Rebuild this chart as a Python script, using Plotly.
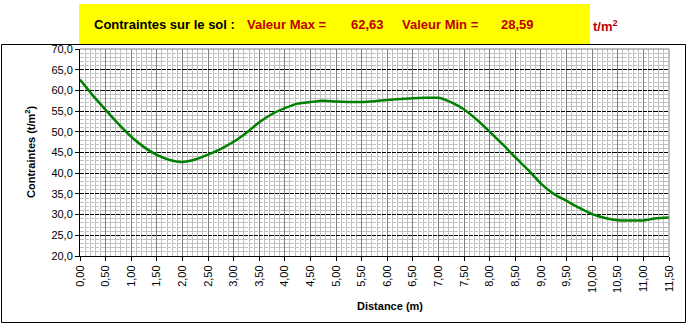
import plotly.graph_objects as go

distance = [0, 0.25, 0.5, 0.75, 1, 1.25, 1.5, 1.75, 2, 2.25, 2.5, 2.75, 3, 3.25, 3.5, 3.75,
            4, 4.25, 4.5, 4.75, 5, 5.25, 5.5, 5.75, 6, 6.25, 6.5, 6.75, 7, 7.25, 7.5, 7.75,
            8, 8.25, 8.5, 8.75, 9, 9.25, 9.5, 9.75, 10, 10.25, 10.5, 10.75, 11, 11.25, 11.5]
contraintes = [62.63, 58.8, 55.3, 51.9, 48.8, 46.3, 44.4, 43.2, 42.7, 43.3, 44.5, 45.9, 47.6,
               49.8, 52.3, 54.3, 55.7, 56.8, 57.2, 57.5, 57.3, 57.2, 57.2, 57.4, 57.7, 57.9,
               58.1, 58.2, 58.2, 57.1, 55.4, 52.9, 50.0, 47.0, 43.8, 40.8, 37.5, 35.0, 33.3,
               31.6, 30.1, 29.2, 28.65, 28.59, 28.6, 29.1, 29.3]
x_ticks = [i * 0.5 for i in range(24)]
y_ticks = [20, 25, 30, 35, 40, 45, 50, 55, 60, 65, 70]

L, R, T, B = 80, 669, 49, 256
W, H = R - L, B - T


def px(x):
    return (x - L) / W


def py(y):
    return (B - y) / H


FONT = "Liberation Sans, Arial, sans-serif"
RED = "#C00000"

vmax = max(contraintes)
vmin = min(contraintes)
fmt = lambda v: f"{v:.2f}".replace(".", ",")

fig = go.Figure()
fig.add_trace(go.Scatter(x=distance, y=contraintes, mode="lines",
                         line=dict(color="#008000", width=2.5, shape="spline", smoothing=0.6),
                         showlegend=False, hoverinfo="skip"))

fig.update_layout(
    width=689, height=325,
    margin=dict(l=L, r=689 - R, t=T, b=325 - B),
    paper_bgcolor="white", plot_bgcolor="white",
    separators=", ",
    font=dict(family=FONT, size=11, color="black"),
    xaxis=dict(range=[0, 11.5], tickvals=x_ticks, tickformat=".2f", tickangle=-90,
               showgrid=True, gridcolor="#808080", gridwidth=1,
               minor=dict(dtick=0.1, showgrid=True, gridcolor="#C0C0C0", gridwidth=1),
               showline=True, linecolor="black", linewidth=1,
               ticks="outside", ticklen=4, tickcolor="black",
               tickfont=dict(family=FONT, size=11, color="black"), zeroline=False),
    yaxis=dict(range=[20, 70], tickvals=y_ticks, tickformat=".1f",
               showgrid=True, gridcolor="black", gridwidth=1, griddash="4.12px,1px",
               minor=dict(dtick=1, showgrid=True, gridcolor="#C0C0C0", gridwidth=1),
               showline=True, linecolor="black", linewidth=1,
               ticks="outside", ticklen=4, tickcolor="black",
               tickfont=dict(family=FONT, size=11, color="black"), zeroline=False),
)

shapes = [
    # outer frame
    dict(type="rect", xref="paper", yref="paper", x0=px(1.5), x1=px(685.5), y0=py(322.5), y1=py(44.5),
         line=dict(color="black", width=1), layer="below"),
    # yellow title box
    dict(type="rect", xref="paper", yref="paper", x0=px(79), x1=px(590), y0=py(44), y1=py(4),
         fillcolor="#FFFF00", line=dict(width=0), layer="below"),
    # top and right of plot area (gray)
    dict(type="line", xref="paper", yref="paper", x0=0, x1=1, y0=1, y1=1,
         line=dict(color="#808080", width=1), layer="above"),
    dict(type="line", xref="paper", yref="paper", x0=1, x1=1, y0=0, y1=1,
         line=dict(color="#808080", width=1), layer="above"),
]
fig.update_layout(shapes=shapes)

ann = []


def add_text(text, x, y, color="black", size=13, angle=0, xanchor="left"):
    ann.append(dict(text=text, x=px(x), y=py(y), xref="paper", yref="paper", showarrow=False,
                    xanchor=xanchor, yanchor="middle", textangle=angle,
                    font=dict(family=FONT, size=size, color=color)))


add_text("<b>Contraintes sur le sol :</b>", 92, 25)
add_text("<b>Valeur Max =</b>", 245, 25, RED)
add_text("<b>" + fmt(vmax) + "</b>", 349, 25, RED)
add_text("<b>Valeur Min =</b>", 400, 25, RED)
add_text("<b>" + fmt(vmin) + "</b>", 499, 25, RED)
add_text("<b>t/m<sup>2</sup></b>", 591, 26, RED)
add_text("<b>Contraintes (t/m<sup>2</sup>)</b>", 30, 152, size=11, angle=-90, xanchor="center")
add_text("<b>Distance (m)</b>", 390, 306, size=11, xanchor="center")
fig.update_layout(annotations=ann)

fig.write_html("out.html")
